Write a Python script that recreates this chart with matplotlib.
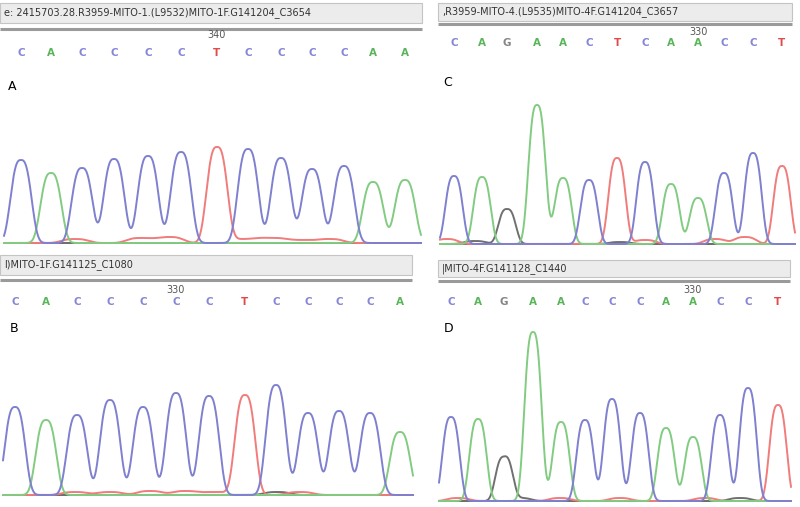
import numpy as np
import matplotlib
matplotlib.use("Agg")
import matplotlib.pyplot as plt
from matplotlib.patches import Rectangle

W, H = 800, 507

# peak calls: base, scan position, height above baseline
bases_a = list("CACCCCTCCCCAA")
pos_a = [21, 51, 82, 114, 148, 181, 217, 248, 281, 312, 344, 373, 405]
hgt_a = [83, 70, 75, 84, 87, 91, 96, 94, 85, 74, 77, 61, 63]

bases_b = list("CACCCCCTCCCCA")
pos_b = [15, 46, 77, 110, 143, 176, 209, 245, 276, 308, 339, 370, 400]
hgt_b = [88, 75, 80, 95, 88, 102, 99, 100, 110, 82, 84, 82, 63]

bases_c = list("CAGAACTCAACCT")
pos_c = [454, 482, 507, 537, 563, 589, 617, 645, 671, 698, 724, 753, 782]
hgt_c = [68, 67, 35, 139, 66, 64, 86, 82, 60, 46, 71, 91, 78]

bases_d = list("CAGAACCCAACCT")
pos_d = [451, 478, 504, 533, 561, 585, 612, 640, 666, 693, 720, 748, 778]
hgt_d = [84, 82, 44, 169, 79, 81, 102, 88, 73, 64, 86, 113, 96]

# small background bumps (mostly the T channel)
noise_a = [("T", 75, 4), ("T", 140, 5), ("T", 170, 6), ("T", 245, 4), ("T", 272, 5), ("T", 300, 3), ("T", 330, 4)]
noise_b = [("T", 75, 3), ("T", 110, 3), ("T", 150, 4), ("T", 185, 4), ("T", 215, 3), ("T", 300, 3), ("G", 277, 3)]
noise_c = [("T", 447, 5), ("G", 475, 3), ("T", 645, 4), ("T", 715, 5), ("T", 745, 7), ("G", 620, 2)]
noise_d = [("T", 458, 3), ("G", 520, 3), ("T", 560, 3), ("T", 620, 3), ("T", 705, 3), ("G", 740, 3)]

headers = ["e: 2415703.28.R3959-MITO-1.(L9532)MITO-1F.G141204_C3654",
           "l)MITO-1F.G141125_C1080",
           ",R3959-MITO-4.(L9535)MITO-4F.G141204_C3657",
           "|MITO-4F.G141128_C1440"]
pos_labels = ["340", "330", "330", "330"]
panel_names = ["A", "B", "C", "D"]

trace_col = {"C": "#7f80cf", "A": "#82cc82", "T": "#f07c7c", "G": "#707070"}
letter_col = {"C": "#8686d6", "A": "#5ab45a", "T": "#e04a4a", "G": "#858585"}

fig = plt.figure(figsize=(8, 5.07), dpi=100)


def peak(xs, p, h, a):
    # flat-topped peak shape, closer to the trace than a plain gaussian
    return h * np.exp(-(np.abs(xs - p) / a) ** 2.9)


def panel(box, base, xr, bases, pos, hgt, noise, a, header, hbox, hline,
          lab_idx, lab_txt, lab_y, let_y, name, name_xy):
    x0, y0, x1, y1 = box
    ax = fig.add_axes([x0 / W, 1 - y1 / H, (x1 - x0) / W, (y1 - y0) / H])
    ax.set_xlim(x0, x1)
    ax.set_ylim(-(y1 - base), base - y0)
    ax.axis("off")
    xs = np.linspace(xr[0], xr[1], 1200)
    ax.plot([xr[0], xr[1]], [0, 0], color="#555555", lw=1.4, zorder=1)
    for ch in ["G", "T", "A", "C"]:
        ys = np.zeros_like(xs)
        for b, p, h in zip(bases, pos, hgt):
            if b == ch:
                ys += peak(xs, p, h, a)
        for b, p, h in noise:
            if b == ch:
                ys += peak(xs, p, h, a * 1.3)
        ax.plot(xs, ys, color=trace_col[ch], lw=1.4, zorder=2)
    # base calls
    for b, p in zip(bases, pos):
        ax.text(p, base - let_y, b, color=letter_col[b], fontsize=7.5,
                fontweight="bold", ha="center", va="center")
    ax.text(pos[lab_idx], base - lab_y, lab_txt, color="#555555", fontsize=7,
            ha="center", va="center")
    # header bar
    hx0, hy0, hx1, hy1 = hbox
    ax.add_patch(Rectangle((hx0, base - hy1), hx1 - hx0, hy1 - hy0,
                           facecolor="#ececec", edgecolor="#c4c4c4", lw=0.8,
                           clip_on=False))
    ax.text(hx0 + 4, base - (hy0 + hy1) / 2, header, fontsize=7, color="#333333",
            ha="left", va="center")
    ax.plot([hx0, hx1], [base - hline, base - hline], color="#9a9a9a", lw=2.2,
            solid_capstyle="butt", clip_on=False)
    ax.text(name_xy[0], base - name_xy[1], name, fontsize=9, color="black",
            ha="left", va="center")
    return ax


panel((0, 0, 425, 250), 243, (4, 421), bases_a, pos_a, hgt_a, noise_a, 12.5,
      headers[0], (0, 3, 422, 23), 29, 6, pos_labels[0], 35, 53, "A", (8, 86))
panel((0, 250, 425, 507), 495, (3, 413), bases_b, pos_b, hgt_b, noise_b, 12.3,
      headers[1], (0, 255, 412, 275), 280, 5, pos_labels[1], 290, 302, "B", (10, 329))
panel((438, 0, 800, 250), 244, (440, 795), bases_c, pos_c, hgt_c, noise_c, 10.4,
      headers[2], (438, 3, 792, 21), 24, 9, pos_labels[2], 32, 43, "C", (443, 83))
panel((438, 250, 800, 507), 501, (439, 791), bases_d, pos_d, hgt_d, noise_d, 10.4,
      headers[3], (438, 260, 790, 277), 281, 9, pos_labels[3], 290, 302, "D", (444, 328))

fig.savefig("out.png", dpi=100)
